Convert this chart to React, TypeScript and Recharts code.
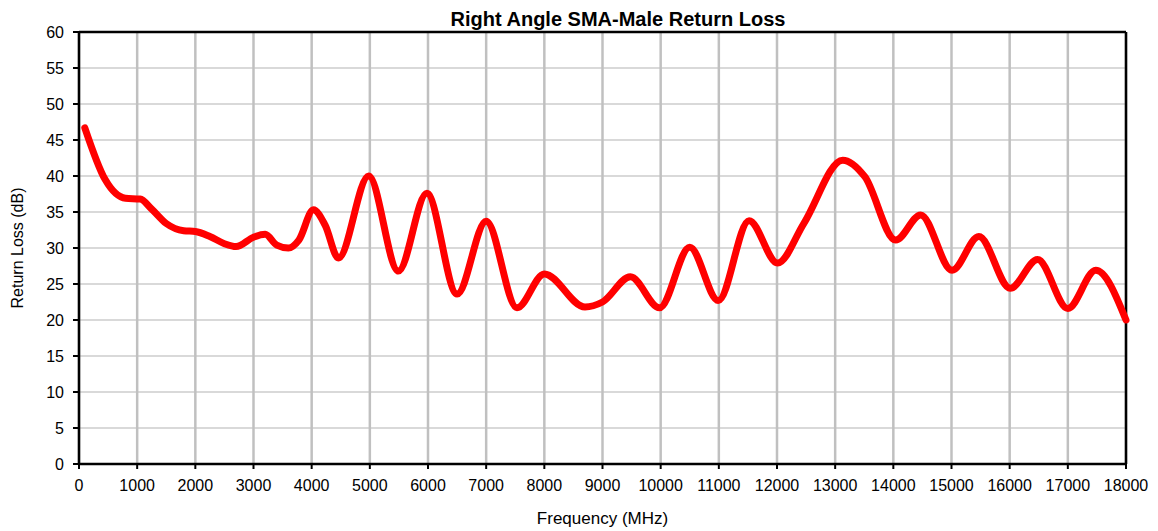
import React from 'react';
import {
  LineChart,
  Line,
  XAxis,
  YAxis,
  CartesianGrid,
  ReferenceLine,
  Label,
} from 'recharts';

// frequency (MHz) and return loss (dB)
const FREQS = [
  100, 450, 800, 1050, 1250, 1500, 1800, 2000, 2250, 2500, 2700, 3000, 3200,
  3400, 3600, 3780, 4030, 4230, 4460, 4980, 5490, 5980, 6500, 7000, 7530,
  8000, 8700, 9000, 9480, 9980, 10500, 10990, 11520, 12010, 12460, 13130,
  13510, 14040, 14470, 15010, 15470, 16010, 16480, 17000, 17480, 18000,
];

const RETURN_LOSS = [
  46.7, 39.5, 36.9, 36.8, 35.4, 33.4, 32.4, 32.3, 31.6, 30.6, 30.2, 31.5, 31.9,
  30.4, 30.0, 31.1, 35.3, 33.2, 28.6, 40.0, 26.8, 37.6, 23.6, 33.7, 21.7,
  26.4, 21.8, 22.5, 26.0, 21.7, 30.1, 22.7, 33.8, 27.9, 33.4, 42.2,
  39.9, 31.1, 34.6, 26.9, 31.6, 24.4, 28.4, 21.6, 26.9, 20.0,
];

const X_TICKS = [
  0, 1000, 2000, 3000, 4000, 5000, 6000, 7000, 8000, 9000, 10000, 11000, 12000,
  13000, 14000, 15000, 16000, 17000, 18000,
];
const Y_TICKS = [0, 5, 10, 15, 20, 25, 30, 35, 40, 45, 50, 55, 60];

const FONT = '"Liberation Sans", Arial, sans-serif';

const data = FREQS.map((f, i) => ({ freq: f, rl: RETURN_LOSS[i] }));

const YLabel = ({ viewBox }: any) => {
  const cy = viewBox.y + viewBox.height / 2;
  return (
    <text
      x={17}
      y={cy}
      transform={`rotate(-90, 17, ${cy})`}
      textAnchor="middle"
      dominantBaseline="central"
      fontFamily={FONT}
      fontSize={16}
      fill="#000"
    >
      Return Loss (dB)
    </text>
  );
};

const XLabel = ({ viewBox }: any) => {
  const cx = viewBox.x + viewBox.width / 2;
  return (
    <text
      x={cx}
      y={524}
      textAnchor="middle"
      fontFamily={FONT}
      fontSize={17}
      fill="#000"
    >
      Frequency (MHz)
    </text>
  );
};

export default function App() {
  return (
    <div style={{ position: 'absolute', left: 0, top: 0, width: 1158, height: 531, background: '#fff' }}>
      <div
        style={{
          position: 'absolute',
          left: 0,
          width: 1236,
          top: 8,
          textAlign: 'center',
          fontFamily: FONT,
          fontWeight: 'bold',
          fontSize: 20,
          color: '#000',
        }}
      >
        Right Angle SMA-Male Return Loss
      </div>
      <LineChart
        width={1158}
        height={531}
        data={data}
        margin={{ top: 32, right: 32, left: 0, bottom: 0 }}
        style={{ position: 'absolute', left: 0, top: 0 }}
      >
        <CartesianGrid horizontal={true} vertical={false} stroke="#d9d9d9" strokeWidth={2} />
        <CartesianGrid horizontal={false} vertical={true} stroke="#c0c0c0" strokeWidth={2.5} />
        <XAxis
          dataKey="freq"
          type="number"
          domain={[0, 18000]}
          ticks={X_TICKS}
          interval={0}
          height={67}
          stroke="#000"
          strokeWidth={2.5}
          tickSize={5}
          tickMargin={11}
          tick={{ fill: '#000', fontSize: 16, fontFamily: FONT }}
          tickLine={{ stroke: '#000', strokeWidth: 2 }}
        >
          <Label content={<XLabel />} />
        </XAxis>
        <YAxis
          type="number"
          domain={[0, 60]}
          ticks={Y_TICKS}
          interval={0}
          width={79}
          stroke="#000"
          strokeWidth={2.5}
          tickSize={6}
          tickMargin={9}
          tick={{ fill: '#000', fontSize: 16, fontFamily: FONT }}
          tickLine={{ stroke: '#000', strokeWidth: 2 }}
        >
          <Label content={<YLabel />} />
        </YAxis>
        <ReferenceLine y={60} stroke="#000" strokeWidth={2.5} />
        <ReferenceLine x={18000} stroke="#000" strokeWidth={2.5} />
        <Line
          type="monotone"
          dataKey="rl"
          stroke="#ff0000"
          strokeWidth={7}
          strokeLinecap="round"
          strokeLinejoin="round"
          dot={false}
          activeDot={false}
          isAnimationActive={false}
        />
      </LineChart>
    </div>
  );
}
